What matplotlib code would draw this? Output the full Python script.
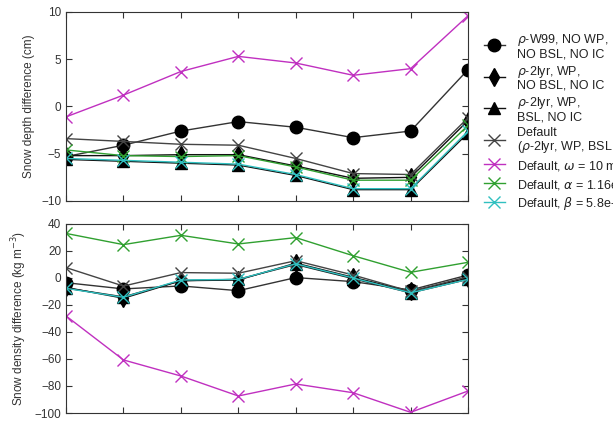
import numpy as np
import matplotlib
matplotlib.use("Agg")
import matplotlib.pyplot as plt

plt.rcParams["font.family"] = ["Liberation Sans", "DejaVu Sans"]
plt.rcParams["mathtext.fontset"] = "dejavusans"

months = ["Sep", "Oct", "Nov", "Dec", "Jan", "Feb", "Mar", "Apr"]

# snow depth difference (cm)
depth_w99 = [-5.3, -4.1, -2.6, -1.6, -2.2, -3.3, -2.6, 3.9]
depth_wp = [-5.2, -5.2, -5.1, -5.1, -6.3, -7.6, -7.5, -1.5]
depth_bsl = [-5.6, -5.8, -6.0, -6.2, -7.3, -8.8, -8.8, -2.8]
depth_def = [-3.4, -3.7, -4.0, -4.1, -5.5, -7.1, -7.2, -1.2]
depth_omega = [-1.1, 1.2, 3.7, 5.3, 4.6, 3.3, 4.0, 9.6]
depth_alpha = [-4.6, -5.2, -5.3, -5.2, -6.4, -7.8, -7.8, -2.0]
depth_beta = [-5.5, -5.7, -5.9, -6.1, -7.2, -8.7, -8.7, -2.6]

# snow density difference (kg m-3)
dens_w99 = [-3.5, -8.1, -5.9, -9.4, 0.3, -2.7, -8.9, 2.2]
dens_wp = [-7.0, -15.0, -2.0, -1.5, 11.0, 0.5, -10.0, 0.0]
dens_bsl = [-7.5, -14.0, -2.0, -1.0, 10.0, -0.5, -11.0, -1.0]
dens_def = [7.7, -6.0, 4.0, 3.5, 12.8, 2.2, -10.0, 1.0]
dens_omega = [-28.1, -60.7, -72.6, -87.4, -78.5, -85.0, -99.5, -83.7]
dens_alpha = [33.0, 24.7, 31.6, 25.2, 29.9, 16.5, 4.2, 11.6]
dens_beta = [-7.7, -14.3, -1.5, -1.0, 10.5, 0.0, -11.0, -1.0]

labels = [
    "$\\rho$-W99, NO WP,\nNO BSL, NO IC",
    "$\\rho$-2lyr, WP,\nNO BSL, NO IC",
    "$\\rho$-2lyr, WP,\nBSL, NO IC",
    "Default\n($\\rho$-2lyr, WP, BSL, IC)",
    "Default, $\\omega$ = 10 mm",
    "Default, $\\alpha$ = 1.16e-4",
    "Default, $\\beta$ = 5.8e-3",
]
styles = [
    dict(color="#333333", marker="o", ms=9, mfc="black", mec="black"),
    dict(color="#111111", marker="d", ms=9, mfc="black", mec="black"),
    dict(color="#111111", marker="^", ms=8, mfc="black", mec="black"),
    dict(color="#444444", marker="x", ms=8, mew=1.0),
    dict(color="#c030c0", marker="x", ms=8, mew=1.0),
    dict(color="#30a030", marker="x", ms=8, mew=1.0),
    dict(color="#30c0c0", marker="x", ms=8, mew=1.0),
]

x = np.arange(len(months))
fig = plt.figure(figsize=(6.13, 4.21), dpi=100)
ax1 = fig.add_axes([0.1077, 0.5226, 0.6558, 0.449])
ax2 = fig.add_axes([0.1077, 0.019, 0.6558, 0.449])

depth = [depth_w99, depth_wp, depth_bsl, depth_def, depth_omega, depth_alpha, depth_beta]
dens = [dens_w99, dens_wp, dens_bsl, dens_def, dens_omega, dens_alpha, dens_beta]

handles = []
for vals, st, lab in zip(depth, styles, labels):
    h, = ax1.plot(x, vals, lw=1.0, label=lab, **st)
    handles.append(h)
for vals, st in zip(dens, styles):
    ax2.plot(x, vals, lw=1.0, **st)

for ax in (ax1, ax2):
    ax.set_xlim(0, 7)
    ax.set_xticks(x)
    ax.tick_params(direction="in", top=True, right=True, labelsize=8.5,
                   length=4.5, colors="#333333")
    for s in ax.spines.values():
        s.set_color("#333333")

ax1.set_ylim(-10, 10)
ax1.set_yticks([-10, -5, 0, 5, 10])
ax1.set_xticklabels([])
ax1.set_ylabel("Snow depth difference (cm)", fontsize=8.5, color="#333333")

ax2.set_ylim(-100, 40)
ax2.set_yticks(np.arange(-100, 41, 20))
ax2.set_xticklabels(months)
ax2.tick_params(axis="x", pad=6)
ax2.set_ylabel("Snow density difference (kg m$^{-3}$)", fontsize=8.5, color="#333333")

leg = fig.legend(handles=handles, loc="upper left", bbox_to_anchor=(0.781, 0.935),
                 frameon=False, fontsize=9, handlelength=1.7, handleheight=1.45,
                 labelspacing=0.28, handletextpad=0.95, borderaxespad=0)
for t in leg.get_texts():
    t.set_linespacing(1.0)
    t.set_color("#222222")

fig.savefig("out.png", dpi=100)
